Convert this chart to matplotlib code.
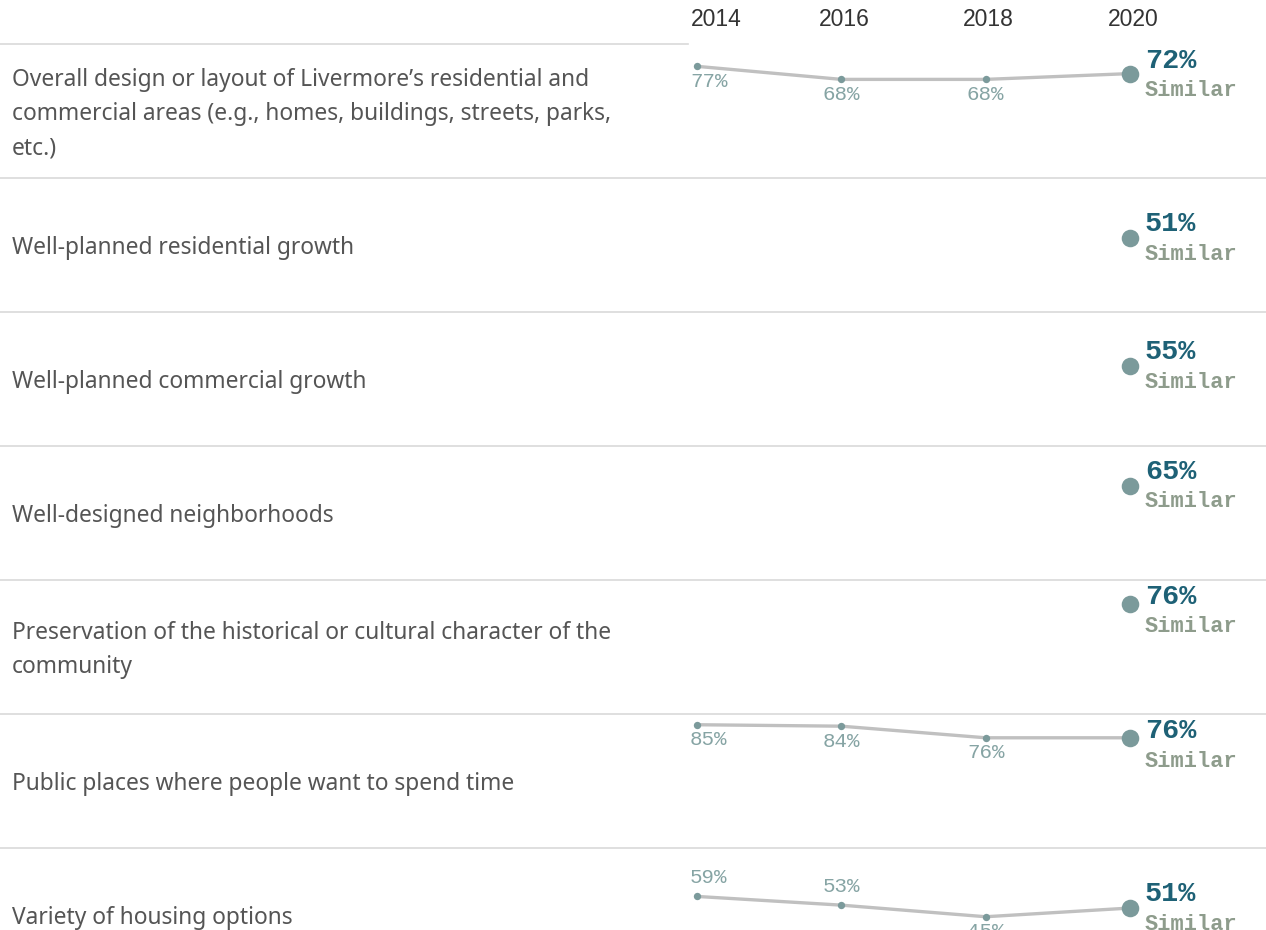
import matplotlib.pyplot as plt
from matplotlib.lines import Line2D

# ---- data ----
items = [
    "Overall design or layout of Livermore\u2019s residential and\ncommercial areas (e.g., homes, buildings, streets, parks,\netc.)",
    "Well-planned residential growth",
    "Well-planned commercial growth",
    "Well-designed neighborhoods",
    "Preservation of the historical or cultural character of the\ncommunity",
    "Public places where people want to spend time",
    "Variety of housing options",
]
years = [2014, 2016, 2018, 2020]
values = [
    [77, 68, 68, 72],
    [None, None, None, 51],
    [None, None, None, 55],
    [None, None, None, 65],
    [None, None, None, 76],
    [85, 84, 76, 76],
    [59, 53, 45, 51],
]
comparison = ["Similar"] * 7

# ---- style ----
W, H = 1266, 930
ROW_TOP, ROW_H = 44, 134
X0, X1 = 697, 1130
YMAX = 92.4
SEP = "#d9d9d9"
LINE = "#c0c0c0"
DOT = "#7b9a9b"
PAST_TXT = "#86a4a4"
CUR_TXT = "#1e6176"
CMP_TXT = "#8e9c8c"
LABEL_TXT = "#555555"
YEAR_TXT = "#333333"
MONO = "Liberation Mono"
# label above the point (True) or below (False), per row
above = [[False] * 3] * 6 + [[True, True, False]]

PX = 0.72  # points per pixel at dpi 100


def fx(px):
    return px / W


def fy(py):
    return 1 - py / H


fig = plt.figure(figsize=(W / 100, H / 100), dpi=100)

# header rule (left part only) and row separators
fig.add_artist(Line2D([0, fx(688)], [fy(ROW_TOP)] * 2, color=SEP, lw=1.2,
                      zorder=-5))
for i in range(1, len(items)):
    y = fy(ROW_TOP + ROW_H * i)
    fig.add_artist(Line2D([0, 1], [y, y], color=SEP, lw=1.2, zorder=-5))

for i, (label, vals) in enumerate(zip(items, values)):
    top = ROW_TOP + ROW_H * i
    ax = fig.add_axes([fx(X0), fy(top + ROW_H), fx(X1) - fx(X0), ROW_H / H])
    ax.set_xlim(years[0], years[-1])
    ax.set_ylim(0, YMAX)
    ax.axis("off")

    # row label
    lines = label.split("\n")
    yc = top + ROW_H / 2 + 3
    for k, ln in enumerate(lines):
        yy = yc + (k - (len(lines) - 1) / 2) * 34
        fig.text(fx(12), fy(yy), ln, ha="left", va="center", fontsize=16.4,
                 family="Noto Sans", color=LABEL_TXT)

    px = [yr for yr, v in zip(years, vals) if v is not None]
    pv = [v for v in vals if v is not None]
    if len(px) > 1:
        ax.plot(px, pv, color=LINE, lw=2.4, zorder=1, clip_on=False)
        ax.scatter(px[:-1], pv[:-1], s=28, color=DOT, zorder=2, clip_on=False,
                   linewidths=0)
        for j, (yr, v) in enumerate(zip(px[:-1], pv[:-1])):
            up = above[i][j]
            dx = -7 if yr == years[0] else 0
            ha = "left" if yr == years[0] else "center"
            ax.annotate(f"{v}%", (yr, v), xytext=(dx * PX, (19 if up else -15) * PX),
                        textcoords="offset points", ha=ha, va="center",
                        fontsize=15, family=MONO, color=PAST_TXT,
                        annotation_clip=False)
    ax.scatter([px[-1]], [pv[-1]], s=160, color=DOT, zorder=3, clip_on=False,
               linewidths=0)
    # keep the current-year label block inside the row
    off = ROW_H * (1 - pv[-1] / YMAX)
    dy = min(14, off - 17)
    ax.annotate(f"{pv[-1]}%", (px[-1], pv[-1]), xytext=(15 * PX, dy * PX),
                textcoords="offset points", ha="left", va="center",
                fontsize=20.5, family=MONO, weight="bold", color=CUR_TXT,
                annotation_clip=False)
    ax.annotate(comparison[i], (px[-1], pv[-1]), xytext=(15 * PX, (dy - 30) * PX),
                textcoords="offset points", ha="left", va="center",
                fontsize=15.8, family=MONO, weight="bold", color=CMP_TXT,
                annotation_clip=False)

    if i == 0:
        for yr in years:
            dx = -6 if yr == years[0] else 3
            ha = "left" if yr == years[0] else "center"
            ax.annotate(str(yr), (yr, 1), xycoords=("data", "axes fraction"),
                        xytext=(dx * PX, 25 * PX), textcoords="offset points",
                        ha=ha, va="center", fontsize=16.5,
                        family="Liberation Sans", color=YEAR_TXT,
                        annotation_clip=False)

fig.savefig("out.png", dpi=100)
